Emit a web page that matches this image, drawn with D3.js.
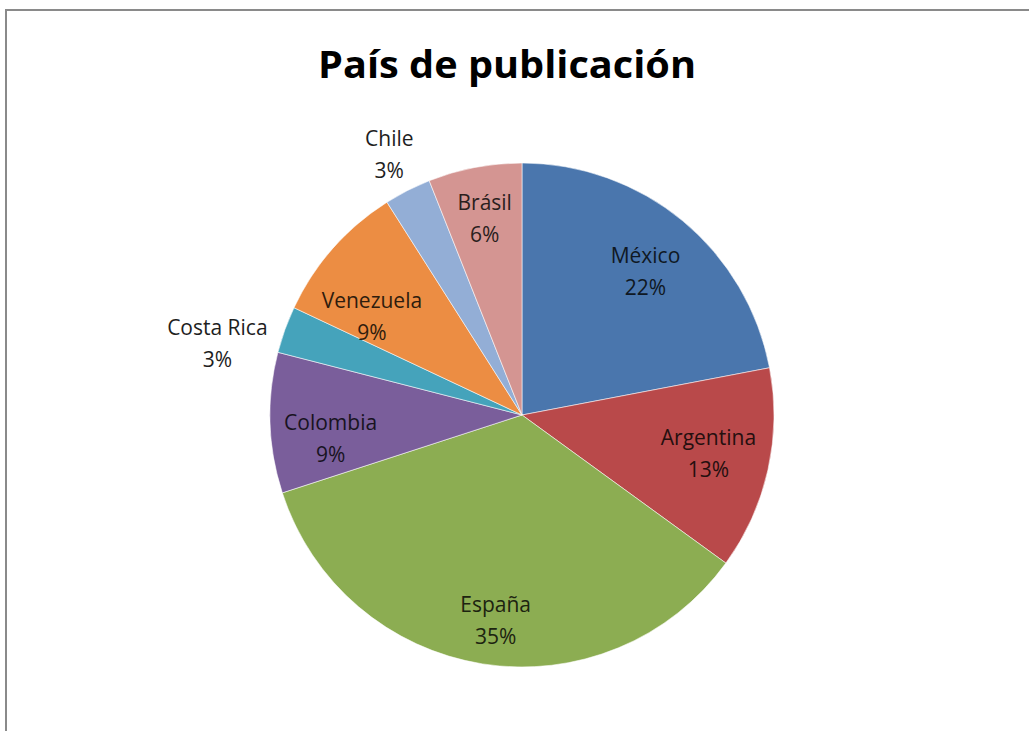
<!DOCTYPE html>
<html>
<head>
<meta charset="utf-8">
<script src="https://cdn.jsdelivr.net/npm/d3@7"></script>
<style>
  html, body { margin: 0; padding: 0; background: #fff; }
  svg { display: block; }
</style>
</head>
<body>
<svg id="chart" width="1029" height="731"></svg>
<script>
// Publications by country (share of total, %)
const countries = ["México", "Argentina", "España", "Colombia", "Costa Rica", "Venezuela", "Chile", "Brásil"];
const shares = [22, 13, 35, 9, 3, 9, 3, 6];
const sliceColors = ["#4a76ad", "#b9494a", "#8cad52", "#7a5e9b", "#45a3bb", "#ec8d43", "#93aed6", "#d49592"];
const title = "País de publicación";

const width = 1029, height = 731;
const cx = 522, cy = 415, radius = 252;

// Label placement: radial factor plus a small nudge; outside labels sit beyond the rim
const labelLayout = {
  "México":     { k: 0.75, dx: 3,   dy: 3,  outside: false },
  "Argentina":  { k: 0.75, dx: 2,   dy: -2, outside: false },
  "España":     { k: 0.82, dx: 6,   dy: 2,  outside: false },
  "Colombia":   { k: 0.76, dx: 0,   dy: 18, outside: false },
  "Costa Rica": { k: 1.23, dx: -13, dy: 34, outside: true },
  "Venezuela":  { k: 0.72, dx: -14, dy: 22, outside: false },
  "Chile":      { k: 1.16, dx: 0,   dy: 0,  outside: true },
  "Brásil":     { k: 0.79, dx: 0,   dy: 0,  outside: false }
};

const svg = d3.select("#chart");

// chart frame
svg.append("path")
  .attr("d", `M6,${height} L6,10 L${width},10`)
  .attr("fill", "none")
  .attr("stroke", "#8a8a8a")
  .attr("stroke-width", 2);

svg.append("text")
  .attr("x", 507)
  .attr("y", 78)
  .attr("text-anchor", "middle")
  .attr("font-family", "'Open Sans', 'Noto Sans', sans-serif")
  .attr("font-weight", 700)
  .attr("font-size", 38)
  .attr("textLength", 378)
  .attr("lengthAdjust", "spacingAndGlyphs")
  .attr("fill", "#000")
  .text(title);

const data = countries.map((c, i) => ({ name: c, value: shares[i], color: sliceColors[i] }));

const pie = d3.pie().value(d => d.value).sort(null);
const arcs = pie(data);
const arc = d3.arc().innerRadius(0).outerRadius(radius);

const g = svg.append("g").attr("transform", `translate(${cx},${cy})`);

g.selectAll("path.slice")
  .data(arcs)
  .join("path")
  .attr("class", "slice")
  .attr("d", arc)
  .attr("fill", d => d.data.color)
  .attr("stroke", "#ffffff")
  .attr("stroke-opacity", 0.55)
  .attr("stroke-width", 1);

const lineGap = 32;
const labels = g.selectAll("text.label")
  .data(arcs)
  .join("text")
  .attr("class", "label")
  .attr("text-anchor", "middle")
  .attr("font-family", "'Open Sans', 'Noto Sans', sans-serif")
  .attr("font-size", 21)
  .attr("fill", d => labelLayout[d.data.name].outside ? "#1e1e1e" : d3.interpolateRgb(d.data.color, "#000")(0.8))
  .attr("transform", d => {
    const L = labelLayout[d.data.name];
    const r = radius * L.k;
    const la = d3.arc().innerRadius(r).outerRadius(r);
    const [x, y] = la.centroid(d);
    return `translate(${x + L.dx},${y + L.dy})`;
  });

labels.append("tspan")
  .attr("x", 0)
  .attr("y", -lineGap / 2 + 7)
  .text(d => d.data.name);

labels.append("tspan")
  .attr("x", 0)
  .attr("y", lineGap / 2 + 7)
  .text(d => d.data.value + "%");
</script>
</body>
</html>
